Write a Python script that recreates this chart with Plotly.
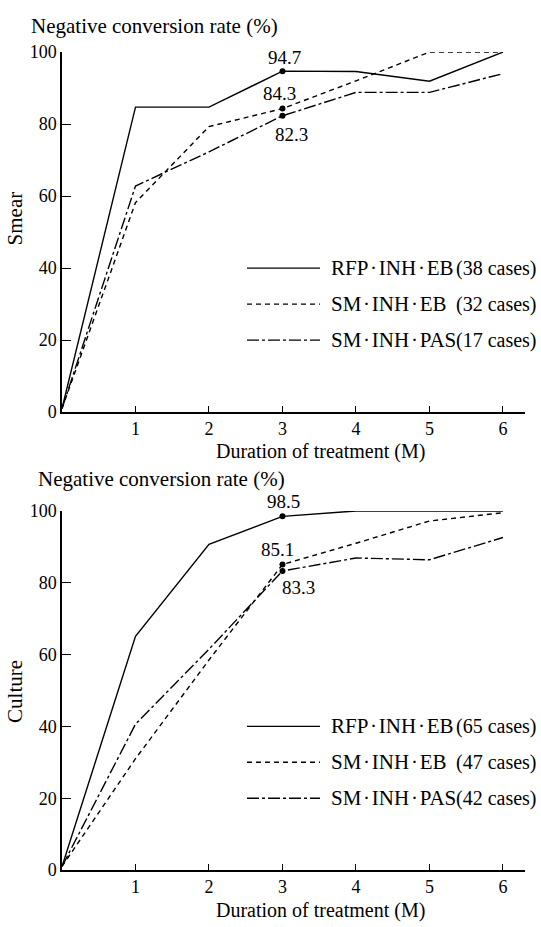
import plotly.graph_objects as go

# ---------------- data ----------------
months = [0, 1, 2, 3, 4, 5, 6]
x_ticks = [1, 2, 3, 4, 5, 6]
y_ticks = [0, 20, 40, 60, 80, 100]

smear_rfp = [1, 84.7, 84.7, 94.7, 94.6, 91.9, 100]
smear_sm_eb = [1, 58.2, 79.3, 84.3, 92.0, 100, 100]
smear_sm_pas = [1, 62.8, 72.3, 82.3, 88.8, 88.8, 94.0]

culture_rfp = [1, 65.1, 90.7, 98.5, 100, 100, 100]
culture_sm_eb = [1, 31.0, 58.5, 85.1, 91.0, 97.2, 99.5]
culture_sm_pas = [1, 40.6, 61.5, 83.3, 86.9, 86.4, 92.6]

regimens = ["RFP·INH·EB", "SM·INH·EB", "SM·INH·PAS"]
smear_cases = [38, 32, 17]
culture_cases = [65, 47, 42]
labeled_idx = 3

y_title = "Negative conversion rate (%)"
x_title = "Duration of treatment (M)"
panel_titles = ["Smear", "Culture"]

# ---------------- style ----------------
W, H = 541, 927
L, R = 62, 16
PW = W - L - R
FONT = "Liberation Serif"
dashes = ["solid", "5px,4px", "12px,3px,3px,3px"]
LW = 1.4


def px(xp):
    return (xp - L) / PW


def py(yp):
    return 1 - yp / H


fig = go.Figure()

panels = [
    dict(series=[smear_rfp, smear_sm_eb, smear_sm_pas], cases=smear_cases,
         xa="x", ya="y", top=43, bot=411, title=panel_titles[0],
         title_y=213, ytitle_x=29, ytitle_y=16, xtitle_y=451,
         lab_shift=[(2, 14), (-3, 15), (9, -19)]),
    dict(series=[culture_rfp, culture_sm_eb, culture_sm_pas], cases=culture_cases,
         xa="x2", ya="y2", top=512, bot=879, title=panel_titles[1],
         title_y=697, ytitle_x=36, ytitle_y=479, xtitle_y=920,
         lab_shift=[(1, 15), (-5, 15), (16, -17)]),
]

annotations = []
shapes = []
for p in panels:
    for k, ys in enumerate(p["series"]):
        fig.add_trace(go.Scatter(
            x=months, y=ys, mode="lines", xaxis=p["xa"], yaxis=p["ya"],
            line=dict(color="black", width=LW, dash=dashes[k]),
            showlegend=False, hoverinfo="skip"))
        fig.add_trace(go.Scatter(
            x=[months[labeled_idx]], y=[ys[labeled_idx]], mode="markers",
            xaxis=p["xa"], yaxis=p["ya"],
            marker=dict(color="black", size=6), showlegend=False, hoverinfo="skip"))
        dx, dy = p["lab_shift"][k]
        annotations.append(dict(
            x=months[labeled_idx], y=ys[labeled_idx], xref=p["xa"], yref=p["ya"],
            text=f"{ys[labeled_idx]:.1f}", showarrow=False, xshift=dx, yshift=dy,
            font=dict(family=FONT, size=19, color="black")))
        # legend rows
        row_y = p["top"] + (p["bot"] - p["top"]) * (0.6 + 0.1 * k)
        shapes.append(dict(type="line", xref="paper", yref="paper",
                           x0=px(247), x1=px(320), y0=py(row_y), y1=py(row_y),
                           line=dict(color="black", width=LW, dash=dashes[k])))
        annotations.append(dict(
            x=px(329), y=py(row_y), xref="paper", yref="paper", xanchor="left",
            yanchor="middle", showarrow=False, text=regimens[k].replace("·", "\u200a·\u200a"),
            font=dict(family=FONT, size=21, color="black")))
        annotations.append(dict(
            x=px(539), y=py(row_y), xref="paper", yref="paper", xanchor="right",
            yanchor="middle", showarrow=False, text=f"({p['cases'][k]} cases)",
            font=dict(family=FONT, size=20, color="black")))
    # titles
    annotations.append(dict(
        x=px(p["ytitle_x"]), y=py(p["ytitle_y"]), xref="paper", yref="paper",
        xanchor="left", yanchor="middle", showarrow=False, text=y_title,
        font=dict(family=FONT, size=21, color="black")))
    annotations.append(dict(
        x=px(320), y=py(p["xtitle_y"]), xref="paper", yref="paper",
        xanchor="center", yanchor="middle", showarrow=False, text=x_title,
        font=dict(family=FONT, size=20, color="black")))
    annotations.append(dict(
        x=px(15), y=py(p["title_y"]), xref="paper", yref="paper",
        xanchor="center", yanchor="middle", showarrow=False, text=p["title"],
        textangle=-90, font=dict(family=FONT, size=21, color="black")))

xcommon = dict(range=[0, 6.3], tickvals=x_ticks, ticks="inside", ticklen=6,
               tickwidth=1, tickcolor="black", showline=True, linecolor="black",
               linewidth=1.5, showgrid=False, zeroline=False,
               tickfont=dict(family=FONT, size=18, color="black"), fixedrange=True)
ycommon = dict(range=[0, 100], tickvals=y_ticks, ticks="inside", ticklen=9,
               tickwidth=1.3, tickcolor="black", showline=True, linecolor="black",
               linewidth=1.5, showgrid=False, zeroline=False,
               tickfont=dict(family=FONT, size=18, color="black"), fixedrange=True)

fig.update_layout(
    width=W, height=H,
    margin=dict(l=L, r=R, t=0, b=0),
    paper_bgcolor="white", plot_bgcolor="white",
    xaxis=dict(domain=[0, 1], anchor="y", **xcommon),
    yaxis=dict(domain=[py(411), py(43)], anchor="x", **ycommon),
    xaxis2=dict(domain=[0, 1], anchor="y2", **xcommon),
    yaxis2=dict(domain=[py(879), py(512)], anchor="x2", **ycommon),
    annotations=annotations, shapes=shapes,
    font=dict(family=FONT, color="black"),
)

fig.write_html("out.html")
